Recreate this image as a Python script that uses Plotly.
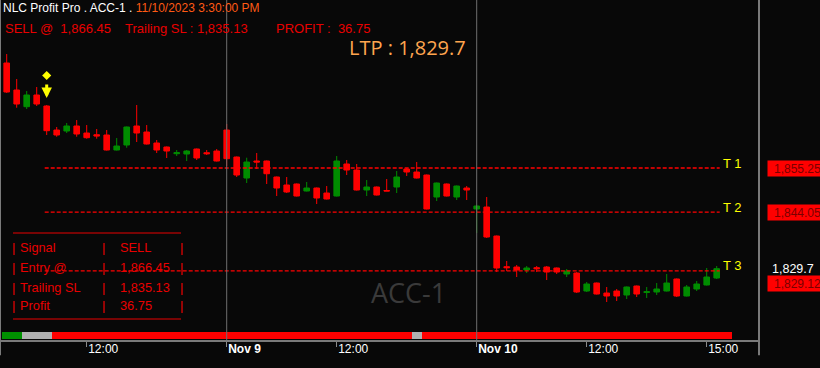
import pandas as pd
import plotly.graph_objects as go

# ---------------- data ----------------
session_start = {"2023-11-08": "10:00", "2023-11-09": "09:15", "2023-11-10": "09:15"}
session_end = "15:15"

opens = [1881.90, 1875.05, 1870.81, 1873.78, 1870.99, 1864.89, 1864.64, 1865.91, 1864.13, 1863.70,
         1863.63, 1859.82, 1861.09, 1865.91, 1864.39, 1861.60, 1860.58, 1858.88, 1858.80, 1860.07,
         1859.13, 1859.56, 1864.89, 1858.04, 1852.71, 1857.03, 1857.03, 1852.97, 1850.94, 1851.19,
         1849.41, 1850.17, 1848.90, 1848.14, 1856.27, 1854.74, 1849.67, 1850.43, 1849.54, 1850.43,
         1855.00, 1854.23, 1853.47, 1847.89, 1851.19, 1847.89, 1850.17, 1844.84, 1845.35, 1837.99,
         1830.20, 1830.12, 1829.36, 1829.95, 1830.12, 1829.87, 1828.35, 1828.60, 1824.03, 1826.06,
         1823.52, 1824.03, 1823.02, 1825.30, 1823.65, 1823.78, 1824.03, 1827.08, 1822.76, 1824.54,
         1825.56, 1827.33]
highs = [1884.18, 1877.84, 1874.79, 1875.81, 1871.24, 1865.66, 1866.67, 1867.43, 1866.16, 1865.15,
         1864.89, 1862.86, 1865.78, 1871.24, 1866.16, 1862.36, 1860.71, 1859.82, 1859.82, 1860.20,
         1859.82, 1860.07, 1866.42, 1858.17, 1857.86, 1859.06, 1857.15, 1853.09, 1852.97, 1851.32,
         1851.70, 1850.30, 1850.68, 1858.30, 1857.28, 1856.27, 1852.20, 1850.56, 1852.46, 1854.49,
         1855.25, 1856.77, 1853.60, 1851.57, 1851.32, 1850.81, 1850.68, 1845.73, 1847.89, 1838.12,
         1831.65, 1830.63, 1830.38, 1830.38, 1830.38, 1830.00, 1829.62, 1828.85, 1826.32, 1826.19,
         1825.05, 1824.54, 1825.18, 1825.43, 1825.05, 1826.06, 1828.35, 1827.21, 1825.56, 1826.57,
         1829.87, 1830.38]
lows = [1874.30, 1870.55, 1870.22, 1870.99, 1863.63, 1863.19, 1864.13, 1863.19, 1862.69, 1862.69,
        1859.69, 1859.69, 1860.40, 1861.85, 1861.21, 1859.06, 1857.79, 1858.30, 1857.03, 1857.28,
        1858.55, 1856.90, 1855.76, 1852.97, 1851.44, 1855.00, 1851.19, 1848.14, 1848.90, 1848.02,
        1849.29, 1846.11, 1847.25, 1848.02, 1853.47, 1849.54, 1848.14, 1848.27, 1849.41, 1848.90,
        1853.22, 1852.59, 1844.72, 1846.87, 1848.02, 1847.13, 1847.13, 1838.75, 1837.48, 1828.85,
        1829.11, 1827.59, 1828.60, 1828.85, 1826.82, 1828.35, 1827.59, 1823.52, 1823.78, 1823.14,
        1821.24, 1821.49, 1822.00, 1822.51, 1822.26, 1823.02, 1823.90, 1822.51, 1822.63, 1824.03,
        1825.43, 1827.08]
closes = [1874.54, 1871.49, 1873.78, 1871.49, 1864.72, 1863.63, 1865.91, 1863.88, 1862.94, 1863.37,
          1859.82, 1860.83, 1865.66, 1864.13, 1861.34, 1859.82, 1859.56, 1859.13, 1859.56, 1857.79,
          1858.88, 1857.03, 1857.61, 1853.47, 1856.77, 1856.77, 1853.80, 1850.17, 1849.16, 1848.14,
          1850.17, 1847.64, 1847.38, 1857.03, 1854.74, 1849.67, 1850.43, 1848.40, 1849.41, 1852.97,
          1854.23, 1852.71, 1844.84, 1851.44, 1848.14, 1850.68, 1849.67, 1845.61, 1837.74, 1829.87,
          1829.95, 1829.36, 1829.87, 1829.69, 1828.85, 1828.85, 1829.11, 1823.78, 1825.81, 1823.27,
          1822.76, 1822.76, 1825.05, 1823.27, 1823.86, 1824.54, 1826.06, 1822.76, 1825.05, 1825.81,
          1827.59, 1829.70]

signal_state = ["buy"] * 2 + ["flat"] * 3 + ["sell"] * 36 + ["flat"] * 1 + ["sell"] * 31
signal_index = 4

targets = [1855.25, 1844.05, 1829.12]
target_names = ["T 1", "T 2", "T 3"]

symbol = "ACC-1"
timestamp = "11/10/2023 3:30:00 PM"
signal = "SELL"
entry_price = 1866.45
trailing_sl = 1835.13
profit = 36.75

tick_times = ["2023-11-08 12:00", "2023-11-09 09:15", "2023-11-09 12:00",
              "2023-11-10 09:15", "2023-11-10 12:00", "2023-11-10 15:00"]
tick_labels = ["12:00", "<b>Nov 9</b>", "12:00", "<b>Nov 10</b>", "12:00", "15:00"]

# ---------------- derived ----------------
times = []
for d, s in session_start.items():
    times += [t.strftime("%Y-%m-%d %H:%M") for t in pd.date_range(f"{d} {s}", f"{d} {session_end}", freq="15min")]
idx = list(range(len(times)))
tick_vals = [times.index(t) for t in tick_times]
day_starts = [i for i in idx if i > 0 and times[i][:10] != times[i - 1][:10]]

BG = "#080808"
RED = "#FF0000"
GREEN = "#008C00"
TXT_RED = "#E80000"
FONT = "Liberation Sans, Arial, sans-serif"

PW, PH = 759, 340  # plot area size in px
def px(x):
    return (x - 2.5) / PW   # compensate annotation inner padding
def py(y):
    return 1 - y / PH

fig = go.Figure()

# status bar
state_color = {"buy": "#009000", "flat": "#B0B0B0", "sell": "#FF0000"}
fig.add_trace(go.Bar(x=list(range(len(signal_state))), y=[0.0206] * len(signal_state), base=0.0,
                     marker=dict(color=[state_color[s] for s in signal_state], line=dict(width=0)),
                     yaxis="y2", width=1.0, showlegend=False, hoverinfo="skip"))

fig.add_trace(go.Candlestick(
    x=idx, open=opens, high=highs, low=lows, close=closes,
    increasing=dict(line=dict(color=GREEN, width=1), fillcolor=GREEN),
    decreasing=dict(line=dict(color=RED, width=1), fillcolor=RED),
    whiskerwidth=0, showlegend=False))

# target lines
for t in targets:
    fig.add_trace(go.Scatter(x=[signal_index - 0.2, idx[-1] + 0.3], y=[t, t], mode="lines",
                             line=dict(color=RED, width=1.3, dash="4px,2px"),
                             showlegend=False, hoverinfo="skip"))

# sell marker (diamond)
fig.add_trace(go.Scatter(x=[signal_index], y=[highs[signal_index] + 7.5], mode="markers",
                         marker=dict(symbol="diamond", size=7, color="#FFFF00"),
                         showlegend=False, hoverinfo="skip"))

ann = []
# sell arrow
ann.append(dict(x=signal_index, y=highs[signal_index] + 1.8, xref="x", yref="y", text="",
                showarrow=True, arrowhead=2, arrowsize=0.7, arrowwidth=3, arrowcolor="#FFFF00",
                ax=0, ay=-15, standoff=0))

# header
ann.append(dict(x=px(3), y=py(8), xref="paper", yref="paper", xanchor="left", yanchor="middle",
                showarrow=False, font=dict(family=FONT, size=12, color="#FFFFFF"),
                text=f"NLC Profit Pro . {symbol} . <span style='color:#FF5A14'>{timestamp}</span>"))
ann.append(dict(x=px(5), y=py(28), xref="paper", yref="paper", xanchor="left", yanchor="middle",
                showarrow=False, font=dict(family=FONT, size=13, color=TXT_RED),
                text=f"{signal} @  {entry_price:,.2f}"))
ann.append(dict(x=px(125.5), y=py(28), xref="paper", yref="paper", xanchor="left", yanchor="middle",
                showarrow=False, font=dict(family=FONT, size=13, color=TXT_RED),
                text=f"Trailing SL : {trailing_sl:,.2f}"))
ann.append(dict(x=px(276), y=py(28), xref="paper", yref="paper", xanchor="left", yanchor="middle",
                showarrow=False, font=dict(family=FONT, size=13, color=TXT_RED),
                text=f"PROFIT :  {profit:,.2f}"))
ann.append(dict(x=px(349), y=py(48), xref="paper", yref="paper", xanchor="left", yanchor="middle",
                showarrow=False, font=dict(family="Open Sans", size=20, color="#FFA54F"),
                text=f"LTP : {closes[-1]:,.1f}"))

# watermark
ann.append(dict(x=409 / PW, y=py(292), xref="paper", yref="paper", xanchor="center", yanchor="middle",
                showarrow=False, font=dict(family="Open Sans", size=27, color="#3A3A3A"), text=symbol))

# target labels + right price boxes
for k, (t, name) in enumerate(zip(targets, target_names)):
    ann.append(dict(x=idx[-1] + 0.4, y=t, xref="x", yref="y", xanchor="left", yanchor="middle",
                    yshift=5, showarrow=False, font=dict(family=FONT, size=13, color="#FFFF00"), text=name))
    ann.append(dict(x=1, y=t, xref="paper", yref="y", xanchor="left", yanchor="middle",
                    xshift=8, yshift=(-13 if k == len(targets) - 1 else 0), showarrow=False,
                    bgcolor=RED, width=59, height=15, align="center", borderpad=0,
                    font=dict(family=FONT, size=12, color="#7A0000"), text=f"{t:,.2f}"))
ann.append(dict(x=1, y=closes[-1], xref="paper", yref="y", xanchor="left", yanchor="middle",
                xshift=11, showarrow=False, font=dict(family=FONT, size=12.5, color="#FFFFFF"),
                text=f"{closes[-1]:,.1f}"))

# info table
table_rows = [("Signal", signal), ("Entry @", f"{entry_price:,.2f}"),
              ("Trailing SL", f"{trailing_sl:,.2f}"), ("Profit", f"{profit:,.2f}")]
row_y = [247.7, 267.7, 287.3, 305.7]
for (lab, val), yy in zip(table_rows, row_y):
    for xx, tx in [(12, "|"), (20.5, lab), (102, "|"), (120.5, val), (180, "|")]:
        ann.append(dict(x=px(xx), y=py(yy), xref="paper", yref="paper", xanchor="left",
                        yanchor="middle", showarrow=False, text=tx,
                        font=dict(family=FONT, size=12.8, color=TXT_RED)))

shapes = []
for yy in [233, 319]:
    shapes.append(dict(type="line", xref="paper", yref="paper", x0=13 / PW, x1=181 / PW,
                       y0=py(yy), y1=py(yy), line=dict(color=TXT_RED, width=1)))
for d in day_starts:
    shapes.append(dict(type="line", xref="x", yref="paper", x0=d, x1=d, y0=0, y1=1,
                       line=dict(color="#6E6E6E", width=1)))
for xp in [0, 1]:
    shapes.append(dict(type="line", xref="paper", yref="paper", x0=xp, x1=xp, y0=-0.045, y1=1,
                       line=dict(color="#7A7A7A", width=2)))

fig.update_layout(
    width=820, height=368, margin=dict(l=0, r=61, t=0, b=28),
    paper_bgcolor=BG, plot_bgcolor=BG, showlegend=False,
    boxgap=0.2, bargap=0,
    xaxis=dict(range=[-0.67, 75.23], showgrid=False, zeroline=False, rangeslider=dict(visible=False),
               tickvals=tick_vals, ticktext=tick_labels, ticks="outside", ticklen=5,
               tickcolor="#8A8A8A", ticklabelposition="outside right", ticklabelstandoff=-3,
               tickfont=dict(family=FONT, size=12, color="#FFFFFF"),
               showline=True, linecolor="#7A7A7A", linewidth=2),
    yaxis=dict(range=[1811.60, 1897.89], visible=False, showgrid=False, zeroline=False),
    yaxis2=dict(range=[-0.003, 0.997], overlaying="y", visible=False, showgrid=False, zeroline=False),
    annotations=ann, shapes=shapes,
)

fig.write_html("out.html")
